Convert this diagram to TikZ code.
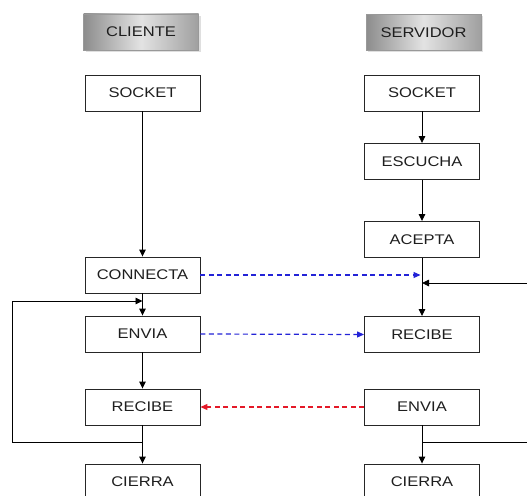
\documentclass[tikz,border=0pt]{standalone}
\usepackage{fontspec}
\setmainfont[FakeStretch=1.18]{Liberation Sans}
\usetikzlibrary{arrows.meta,shadows}

\definecolor{msgblue}{RGB}{35,35,215}
\definecolor{msgred}{RGB}{228,25,40}
\definecolor{boxtext}{RGB}{30,30,30}

\begin{document}
\begin{tikzpicture}[x=1pt,y=-1pt,
  box/.style={draw=black!85, line width=0.9pt, fill=white,
    minimum width=115pt, minimum height=36pt, inner sep=0pt,
    text=boxtext, font=\fontsize{14}{14}\selectfont},
  hdr/.style={box, draw=gray!80, left color=gray!90, right color=gray!75,
    middle color=gray!22,
    drop shadow={shadow xshift=2pt, shadow yshift=-2pt, opacity=0.25, fill=gray}},
  flow/.style={-{Triangle[length=7pt,width=6.5pt]}, line width=0.9pt},
  msg/.style={-{Triangle[length=7pt,width=6pt]}, line width=1.2pt,
    dash pattern=on 5pt off 3.5pt}]

\useasboundingbox (0,0) rectangle (527,495);
\fill[white] (0,0) rectangle (527,495);

% column headers
\node[hdr] (cli) at (141,32) {CLIENTE};
\node[hdr] (srv) at (423.5,32.5) {SERVIDOR};

% client column
\node[box] (cs)   at (142.5,93)  {SOCKET};
\node[box] (con)  at (142.5,275) {CONNECTA};
\node[box] (cenv) at (142.5,334) {ENVIA};
\node[box] (crec) at (142.5,407) {RECIBE};
\node[box] (ccie) at (142.5,482) {CIERRA};

% server column
\node[box] (ss)   at (422,93)    {SOCKET};
\node[box] (esc)  at (422,161.5) {ESCUCHA};
\node[box] (acp)  at (422,239.5) {ACEPTA};
\node[box] (srec) at (422,334.5) {RECIBE};
\node[box] (senv) at (422,407)   {ENVIA};
\node[box] (scie) at (422,482)   {CIERRA};

% client flow
\draw[flow] (cs) -- (con);
\draw[flow] (con) -- (cenv);
\draw[flow] (cenv) -- (crec);
\draw[flow] (crec) -- (ccie);

% server flow
\draw[flow] (ss) -- (esc);
\draw[flow] (esc) -- (acp);
\draw[flow] (acp) -- (srec);
\draw[flow] (senv) -- (scie);

% client loop back
\coordinate (ljoin)  at (142.5,442);
\coordinate (lentry) at (142.5,301);
\draw[flow] (ljoin) -- (12,442) |- (lentry);

% server loop back
\coordinate (rjoin)  at (422,442);
\coordinate (rentry) at (422,283);
\draw[flow] (rjoin) -- (527,442) |- (rentry);

% messages between client and server
\coordinate (accin) at (420.5,275);
\draw[msg, msgblue] (con.east) -- (accin);
\draw[msg, msgblue] (cenv.east) -- (srec.west);
\draw[msg, msgred] (senv.west) -- (crec.east);

\end{tikzpicture}
\end{document}
